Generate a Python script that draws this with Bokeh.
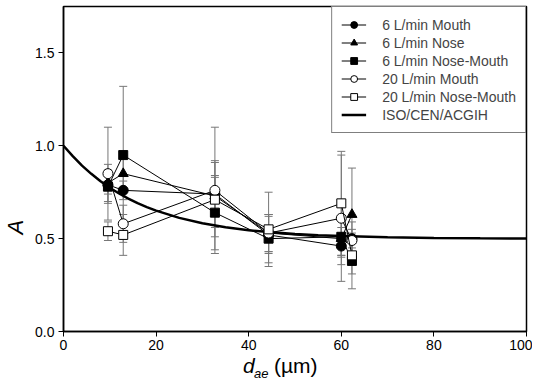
from bokeh.plotting import figure
from bokeh.layouts import column
from bokeh.models import (ColumnDataSource, Whisker, TeeHead, Legend, LegendItem,
                          Div, Range1d, FixedTicker, NumeralTickFormatter)
from bokeh.embed import file_html
from bokeh.resources import INLINE

# ---- data ----
d_ae = [9.6, 12.9, 32.7, 44.3, 60.0, 62.3]

mouth6 = [0.79, 0.76, 0.74, 0.52, 0.46, 0.50]
mouth6_err = [0.05, 0.05, 0.18, 0.10, 0.10, 0.05]
nose6 = [0.80, 0.85, 0.73, 0.53, 0.50, 0.63]
nose6_err = [0.10, 0.10, 0.10, 0.10, 0.10, 0.25]
nm6 = [0.78, 0.95, 0.64, 0.50, 0.51, 0.38]
nm6_err = [0.09, 0.37, 0.20, 0.13, 0.10, 0.15]
mouth20 = [0.85, 0.58, 0.76, 0.53, 0.61, 0.49]
mouth20_err = [0.25, 0.10, 0.34, 0.10, 0.34, 0.10]
nm20 = [0.54, 0.52, 0.71, 0.55, 0.69, 0.41]
nm20_err = [0.05, 0.11, 0.20, 0.20, 0.28, 0.10]

# ISO/CEN/ACGIH inhalable convention
iso_d = [0, 2, 4, 6, 8, 10, 12, 14, 16, 18, 20, 25, 30, 35, 40, 45, 50, 55, 60, 70, 80, 90, 100]
iso_A = [1.000, 0.944, 0.893, 0.849, 0.809, 0.774, 0.743, 0.716, 0.691, 0.670, 0.651,
         0.612, 0.583, 0.561, 0.545, 0.534, 0.525, 0.518, 0.514, 0.508, 0.504, 0.502, 0.501]

series_names = ["6 L/min Mouth", "6 L/min Nose", "6 L/min Nose-Mouth",
                "20 L/min Mouth", "20 L/min Nose-Mouth"]
curve_name = "ISO/CEN/ACGIH"
x_ticks = [0, 20, 40, 60, 80, 100]
y_ticks = [0.0, 0.5, 1.0, 1.5]

FONT = "Liberation Sans"
GRAY = "#777777"

p = figure(width=532, height=355, output_backend="svg", toolbar_location=None,
           x_range=Range1d(0, 100), y_range=Range1d(0, 1.75),
           min_border_left=62, min_border_right=6, min_border_top=6, min_border_bottom=24)
p.xgrid.visible = False
p.ygrid.visible = False
p.outline_line_color = "black"
p.outline_line_width = 1.5
p.background_fill_color = "white"
p.border_fill_color = "white"

for ax in (p.xaxis[0], p.yaxis[0]):
    ax.axis_line_width = 1.5
    ax.major_tick_line_width = 1
    ax.major_tick_out = 5
    ax.major_tick_in = 0
    ax.minor_tick_out = 0
    ax.minor_tick_in = 0
    ax.major_label_text_font = FONT
    ax.major_label_text_font_size = "14px"
    ax.major_label_text_color = "black"

p.xaxis.ticker = FixedTicker(ticks=x_ticks)
p.yaxis.ticker = FixedTicker(ticks=y_ticks)
p.yaxis.formatter = NumeralTickFormatter(format="0.0")
p.xaxis.major_label_standoff = 3
p.yaxis.major_label_standoff = 4

# the reference's "A" sits below the middle of the axis; trailing no-break
# spaces shift the centred label downwards
p.yaxis.axis_label = "A" + "\u00a0" * 19
p.yaxis.axis_label_text_font = FONT
p.yaxis.axis_label_text_font_size = "22px"
p.yaxis.axis_label_text_font_style = "italic"
p.yaxis.axis_label_text_color = "black"
p.yaxis.axis_label_standoff = 4

# ISO curve
iso_r = p.line(iso_d, iso_A, line_color="black", line_width=2.5)

styles = [
    ("circle", "black", mouth6, mouth6_err),
    ("triangle", "black", nose6, nose6_err),
    ("square", "black", nm6, nm6_err),
    ("circle", "white", mouth20, mouth20_err),
    ("square", "white", nm20, nm20_err),
]

items = []
for name, (marker, fill, ys, errs) in zip(series_names, styles):
    src = ColumnDataSource(dict(
        x=d_ae, y=ys,
        upper=[v + e for v, e in zip(ys, errs)],
        lower=[v - e for v, e in zip(ys, errs)],
    ))
    w = Whisker(source=src, base="x", upper="upper", lower="lower",
                line_color=GRAY, line_width=1,
                upper_head=TeeHead(size=8, line_color=GRAY, line_width=1),
                lower_head=TeeHead(size=8, line_color=GRAY, line_width=1))
    p.add_layout(w)
    lr = p.line("x", "y", source=src, line_color="black", line_width=1)
    sr = p.scatter("x", "y", source=src, marker=marker, size=10 if marker != "square" else 9,
                   fill_color=fill, line_color="black", line_width=1)
    items.append(LegendItem(label=name, renderers=[lr, sr]))

items.append(LegendItem(label=curve_name, renderers=[iso_r]))

legend = Legend(items=items, location="top_right", margin=0, padding=9, spacing=1,
                glyph_width=25, glyph_height=17, label_height=17, label_standoff=16,
                label_text_font=FONT, label_text_font_size="14px",
                border_line_color="black", border_line_width=1.2,
                background_fill_color="white", background_fill_alpha=1.0)
p.add_layout(legend, "center")

# x axis label: d_ae (µm), as real HTML text under the plot
xlabel_html = (
    '<div style="position:relative;width:532px;height:24px;'
    'font-family:\'Liberation Sans\',Arial,sans-serif;color:black;">'
    '<span style="position:absolute;left:243px;top:0px;font-size:21px;line-height:21px;'
    'font-style:italic;">d</span>'
    '<span style="position:absolute;left:254px;top:12px;font-size:13px;line-height:13px;'
    'font-style:italic;">ae</span>'
    '<span style="position:absolute;left:274px;top:0px;font-size:21px;line-height:21px;">'
    '(\u00b5m)</span>'
    '</div>'
)
xlabel = Div(text=xlabel_html, width=532, height=24, margin=0)

layout = column(p, xlabel, spacing=0)

open("out.html", "w").write(file_html(layout, INLINE))
